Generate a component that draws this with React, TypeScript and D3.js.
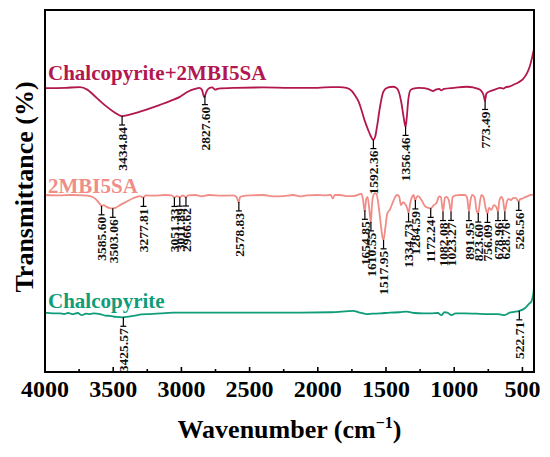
import { useEffect } from 'react';
import * as d3 from 'd3';

// [wavenumber (cm-1), transmittance (a.u., stacked)]
const composite: [number, number][] = [
  [4000, 78.4], [3850, 78.5], [3744, 78.7], [3690, 78.0], [3646, 76.6], [3600, 75.0],
  [3548, 73.3], [3490, 71.7], [3438, 70.7], [3380, 71.1], [3304, 71.9], [3230, 72.8],
  [3157, 73.8], [3080, 74.9], [3011, 76.0], [2950, 77.5], [2900, 78.2], [2870, 78.5],
  [2850, 78.0], [2832, 75.9], [2818, 77.3], [2800, 78.3], [2775, 78.6], [2752, 78.0],
  [2730, 78.3], [2600, 78.5], [2400, 78.6], [2200, 78.5], [2000, 78.5], [1900, 78.7],
  [1839, 78.7], [1790, 78.5], [1750, 77.6], [1729, 76.5], [1700, 74.6], [1680, 72.4],
  [1655, 69.3], [1631, 66.9], [1612, 65.2], [1594, 64.1], [1580, 64.9], [1565, 68.0],
  [1545, 73.0], [1525, 76.8], [1505, 78.2], [1485, 78.6], [1450, 78.8], [1425, 78.5],
  [1405, 77.3], [1387, 74.3], [1370, 70.2], [1357, 67.7], [1348, 70.2], [1337, 75.1],
  [1320, 77.9], [1300, 78.3], [1260, 78.5], [1220, 78.4], [1180, 78.0], [1155, 77.6],
  [1135, 78.0], [1110, 78.2], [1095, 77.8], [1075, 78.2], [1000, 78.5], [910, 78.8],
  [860, 78.6], [830, 78.3], [805, 77.8], [785, 76.5], [774, 74.9], [765, 76.8],
  [752, 77.3], [720, 77.8], [690, 78.2], [666, 78.5], [640, 78.3], [620, 78.7],
  [590, 78.9], [569, 79.3], [530, 80.0], [496, 80.9], [465, 82.6], [445, 84.5],
  [430, 86.7], [420, 88.4], [415, 89.2],
];

const ligand: [number, number][] = [
  [4000, 48.9], [3900, 48.8], [3800, 48.9], [3720, 48.8], [3670, 48.6], [3640, 48.1],
  [3621, 47.5], [3600, 46.5], [3586, 45.9], [3570, 46.1], [3548, 45.6], [3525, 45.3],
  [3505, 45.2], [3480, 45.4], [3450, 46.1], [3400, 47.1], [3353, 48.0], [3304, 48.6],
  [3279, 48.2], [3260, 48.8], [3200, 48.7], [3120, 48.9], [3070, 48.8], [3052, 48.2],
  [3035, 48.6], [3012, 48.3], [2990, 48.8], [2968, 48.3], [2950, 48.8], [2900, 48.9],
  [2850, 48.5], [2800, 48.9], [2700, 48.7], [2620, 48.8], [2595, 48.3], [2580, 46.8],
  [2570, 48.3], [2550, 48.6], [2480, 48.8], [2400, 48.9], [2330, 48.5], [2250, 48.6],
  [2180, 48.9], [2130, 48.5], [2080, 48.8], [2000, 48.9], [1950, 48.8], [1905, 48.9],
  [1890, 47.9], [1875, 48.9], [1839, 48.9], [1780, 48.6], [1741, 48.6], [1700, 49.0],
  [1680, 49.3], [1668, 47.5], [1656, 44.3], [1645, 47.8], [1635, 48.3], [1622, 44.8],
  [1611, 41.2], [1603, 46.1], [1595, 48.5], [1582, 49.4], [1570, 49.2], [1555, 46.1],
  [1540, 41.4], [1525, 37.0], [1518, 36.5], [1505, 39.8], [1490, 43.9], [1472, 44.8],
  [1455, 46.4], [1436, 48.1], [1420, 48.9], [1405, 48.6], [1390, 46.1], [1375, 46.9],
  [1362, 46.5], [1345, 45.3], [1335, 43.9], [1322, 46.7], [1310, 48.3], [1298, 48.9],
  [1286, 47.4], [1276, 48.3], [1265, 48.6], [1240, 47.5], [1216, 45.9], [1195, 45.4],
  [1172, 45.2], [1150, 46.1], [1130, 46.7], [1110, 48.5], [1098, 48.3], [1082, 44.3],
  [1068, 48.1], [1057, 48.4], [1040, 47.5], [1023, 44.3], [1012, 48.3], [990, 48.8],
  [960, 48.9], [920, 48.9], [905, 48.1], [892, 44.3], [880, 47.5], [867, 48.9],
  [850, 48.3], [837, 44.8], [824, 43.8], [812, 46.9], [800, 48.9], [785, 48.3],
  [770, 45.3], [756, 43.8], [745, 45.3], [727, 44.8], [710, 46.1], [691, 45.6],
  [679, 44.3], [668, 47.5], [654, 48.4], [642, 47.5], [629, 44.3], [615, 46.9],
  [600, 47.8], [585, 47.5], [569, 48.0], [550, 48.1], [527, 47.1], [515, 47.8],
  [500, 47.9], [480, 48.3], [460, 48.6], [440, 48.9], [415, 49.0],
];

const chalcopyrite: [number, number][] = [
  [4000, 16.4], [3940, 16.2], [3890, 16.2], [3860, 16.0], [3830, 16.3], [3800, 16.0],
  [3760, 16.3], [3730, 15.7], [3700, 16.1], [3670, 16.0], [3640, 16.2], [3597, 16.0],
  [3560, 15.6], [3524, 15.5], [3480, 15.2], [3428, 15.1], [3390, 15.3], [3353, 15.5],
  [3290, 15.9], [3231, 16.0], [3150, 16.2], [3060, 16.4], [2800, 16.4], [2500, 16.4],
  [2205, 16.4], [1900, 16.5], [1741, 16.9], [1700, 16.5], [1643, 16.0], [1600, 16.1],
  [1540, 16.2], [1472, 16.4], [1400, 16.5], [1350, 16.7], [1290, 16.3], [1228, 16.2],
  [1170, 16.2], [1120, 16.3], [1094, 15.7], [1072, 16.5], [1050, 16.4], [1020, 15.7],
  [990, 16.2], [920, 16.2], [840, 16.1], [740, 16.0], [680, 16.0], [630, 15.7],
  [593, 16.4], [560, 16.6], [522, 16.9], [495, 17.3], [471, 18.0], [450, 18.9],
  [435, 19.4], [425, 20.7], [418, 22.2], [415, 23.5],
];

const compositePeaks = [3434.84, 2827.60, 1592.36, 1356.46, 773.49];
const ligandPeaks = [
  3585.60, 3503.06, 3277.81, 3051.33, 3011.89, 2966.62, 2578.83, 1654.85, 1610.55,
  1517.95, 1334.73, 1284.59, 1172.24, 1082.08, 1023.27, 891.95, 823.60, 756.09,
  678.96, 628.76, 526.56,
];
const chalcopyritePeaks = [3425.57, 522.71];

const xTickValues = d3.range(4000, 499, -250);

const series = [
  { name: 'Chalcopyrite+2MBI5SA', color: '#B2174F', data: composite, peaks: compositePeaks, labelDy: -8 },
  { name: '2MBI5SA', color: '#F08D87', data: ligand, peaks: ligandPeaks, labelDy: -2 },
  { name: 'Chalcopyrite', color: '#0F9C79', data: chalcopyrite, peaks: chalcopyritePeaks, labelDy: -5 },
];

const W = 550;
const H = 457;
const margin = { top: 10, right: 16, bottom: 85, left: 45 };
const serif = '"Liberation Serif", "Times New Roman", serif';

function valueAt(data: [number, number][], w: number) {
  const i = d3.bisector((d: [number, number]) => -d[0]).left(data, -w);
  if (i <= 0) return data[0][1];
  if (i >= data.length) return data[data.length - 1][1];
  const [w0, v0] = data[i - 1];
  const [w1, v1] = data[i];
  const t = (w0 - w) / (w0 - w1);
  return v0 + t * (v1 - v0);
}

export default function App() {
  useEffect(() => {
    document.body.style.margin = '0';
  }, []);

  const x = d3.scaleLinear().domain([4000, 415]).range([margin.left, W - margin.right]);
  const y = d3.scaleLinear().domain([0, 100]).range([H - margin.bottom, margin.top]);

  const line = d3.line<[number, number]>()
    .x(d => x(d[0]))
    .y(d => y(d[1]))
    .curve(d3.curveMonotoneX);

  const plotBottom = H - margin.bottom;

  return (
    <svg width={W} height={H} style={{ display: 'block', background: '#fff' }}>
      <defs>
        <clipPath id="plot-clip">
          <rect x={margin.left} y={margin.top} width={W - margin.left - margin.right} height={plotBottom - margin.top} />
        </clipPath>
      </defs>

      {series.map(s => (
        <g key={s.name}>
          <path d={line(s.data) ?? ''} fill="none" stroke={s.color} strokeWidth={1.8}
            strokeLinejoin="round" clipPath="url(#plot-clip)" />
          <text x={margin.left + 3} y={y(s.data[0][1]) + s.labelDy} fill={s.color}
            fontFamily={serif} fontWeight="bold" fontSize={21}>{s.name}</text>
          {s.peaks.map(p => {
            const px = x(p);
            const py = y(valueAt(s.data, p));
            const barY = py + 9;
            return (
              <g key={p}>
                <line x1={px} x2={px} y1={py} y2={barY} stroke="#000" strokeWidth={1.2} />
                <line x1={px - 3} x2={px + 3} y1={barY} y2={barY} stroke="#000" strokeWidth={1.2} />
                <text transform={`translate(${px},${barY + 2}) rotate(-90)`} textAnchor="end" dy="0.35em"
                  fontFamily={serif} fontWeight="bold" fontSize={13.5} fill="#111">{p.toFixed(2)}</text>
              </g>
            );
          })}
        </g>
      ))}

      {/* frame */}
      <rect x={margin.left} y={margin.top} width={W - margin.left - margin.right}
        height={plotBottom - margin.top} fill="none" stroke="#000" strokeWidth={2} />

      {/* x ticks, inward */}
      {xTickValues.map(t => {
        const major = t % 500 === 0;
        return (
          <g key={t}>
            <line x1={x(t)} x2={x(t)} y1={plotBottom} y2={plotBottom - (major ? 5 : 3)} stroke="#000" strokeWidth={1.6} />
            {major && (
              <text x={x(t)} y={plotBottom + 24.5} textAnchor="middle" fontFamily={serif}
                fontWeight="bold" fontSize={24}>{t}</text>
            )}
          </g>
        );
      })}

      {/* axis titles */}
      <text x={(margin.left + W - margin.right) / 2} y={437.5} textAnchor="middle"
        fontFamily={serif} fontWeight="bold" fontSize={26}>
        Wavenumber (cm<tspan dy={-10} fontSize={16}>−1</tspan><tspan dy={10}>)</tspan>
      </text>
      <text transform={`translate(33,${(margin.top + plotBottom) / 2 - 4}) rotate(-90)`} textAnchor="middle"
        fontFamily={serif} fontWeight="bold" fontSize={26}>Transmittance (%)</text>
    </svg>
  );
}
